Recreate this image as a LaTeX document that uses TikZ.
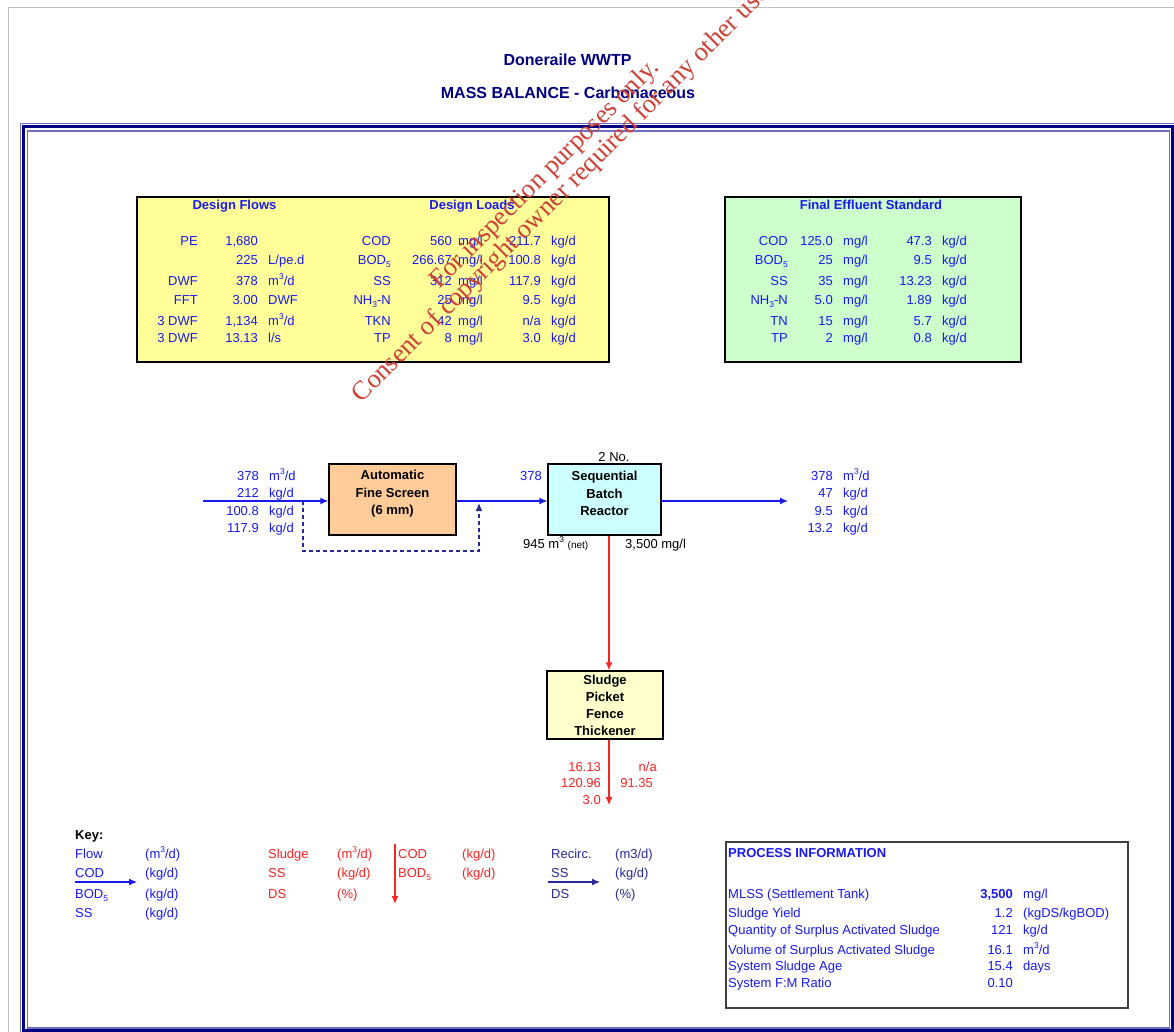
\documentclass[tikz,border=0pt]{standalone}
\usepackage{fontspec}
\setmainfont{Liberation Sans}
\newfontfamily\wmfont{Liberation Serif}
\usetikzlibrary{arrows.meta,calc}

\definecolor{flowblue}{RGB}{25,25,240}
\definecolor{navy}{RGB}{0,0,128}
\definecolor{recircblue}{RGB}{40,40,150}
\definecolor{sludgered}{RGB}{250,35,35}
\definecolor{framelight}{RGB}{110,110,200}
\definecolor{wmred}{RGB}{205,65,55}
\definecolor{loadyellow}{RGB}{255,255,153}
\definecolor{stdgreen}{RGB}{204,255,204}
\definecolor{screenfill}{RGB}{255,204,153}
\definecolor{sbrfill}{RGB}{204,255,255}
\definecolor{thkfill}{RGB}{255,255,204}

\newcommand{\sups}[1]{\raisebox{0.42em}{\fontsize{8.5}{9}\selectfont #1}}
\newcommand{\subs}[1]{\raisebox{-0.25em}{\fontsize{8.5}{9}\selectfont #1}}
\newcommand{\cubd}{m\sups{3}/d}
\newcommand{\kgd}{kg/d}
\newcommand{\mgl}{mg/l}
\newcommand{\bodf}{BOD\subs{5}}
\newcommand{\nhn}{NH\subs{3}-N}

\tikzset{
  >={Latex[length=8pt,width=7pt]},
  txt/.style={font=\fontsize{13}{15}\selectfont, inner sep=0pt, text=flowblue},
  numr/.style={txt, anchor=base east},
  numl/.style={txt, anchor=base west},
  hdr/.style={txt, anchor=base, font=\fontsize{13}{15}\selectfont\bfseries},
  tabbox/.style={draw=black, line width=1.3pt},
  procbox/.style={draw=black, line width=1.3pt, inner sep=0pt},
  proctext/.style={align=center, inner sep=0pt, font=\fontsize{13}{17.5}\selectfont\bfseries},
  flowline/.style={->, flowblue, line width=1.3pt},
  sludgeline/.style={->, sludgered, line width=1.3pt},
  recircline/.style={->, recircblue, line width=1.2pt},
  wmark/.style={text=wmred, anchor=base, rotate=45, inner sep=0pt, font=\wmfont\fontsize{26.5}{30}\selectfont}
}

\begin{document}
\begin{tikzpicture}[x=1pt, y=-1pt]
    \useasboundingbox (0,0) rectangle (1174,1032);
    \fill[white] (0,0) rectangle (1174,1032);

    % sheet edge and frame
    \draw[black!25, line width=1pt] (8,1032) -- (8,8) -- (1174,8);
    \draw[framelight, line width=1.2pt] (20.5,123.5) rectangle (1174.5,1032.5);
    \draw[navy, line width=2.4pt] (23.5,126.7) rectangle (1172.3,1030.3);
    \draw[framelight, line width=1.2pt] (27.5,131) rectangle (1169.8,1028);

    % title
    \node[anchor=base, inner sep=0pt, text=navy, font=\fontsize{16}{19}\selectfont\bfseries] (title) at (567.5,66) {Doneraile WWTP};
    \node[anchor=base, inner sep=0pt, text=navy, font=\fontsize{16}{19}\selectfont\bfseries] (subtitle) at (568,99) {MASS BALANCE - Carbonaceous};

    % design flows and loads
    \draw[tabbox, fill=loadyellow] (137,197) rectangle (609,362);
    \node[hdr] (dfhead) at (234.5,210) {Design Flows};
    \node[hdr] (dlhead) at (472,210) {Design Loads};
    \foreach \y/\lab/\val/\unt [count=\i] in {245/PE/{1,680}/{}, 264/{}/225/{L/pe.d}, 285/DWF/378/\cubd,
        304/FFT/3.00/DWF, 325/3 DWF/{1,134}/\cubd, 342/3 DWF/13.13/{l/s}}
    {
    \node[numr] (fl\i) at (198,\y) {\lab};
    \node[numr] (fv\i) at (258,\y) {\val};
    \node[numl] (fu\i) at (268,\y) {\unt};
    }
    \foreach \y/\lab/\conc/\load [count=\i] in {245/COD/560/211.7, 264/\bodf/266.67/100.8, 285/SS/312/117.9,
        304/\nhn/25/9.5, 325/TKN/42/{n/a}, 342/TP/8/3.0}
    {
    \node[numr] (ll\i) at (391,\y) {\lab};
    \node[numr] (lc\i) at (452,\y) {\conc};
    \node[numl] (lm\i) at (458,\y) {\mgl};
    \node[numr] (lk\i) at (541,\y) {\load};
    \node[numl] (lu\i) at (551,\y) {\kgd};
    }

    % final effluent standard
    \draw[tabbox, fill=stdgreen] (725,197) rectangle (1021,362);
    \node[hdr] (fehead) at (871,210) {Final Effluent Standard};
    \foreach \y/\lab/\conc/\load [count=\i] in {245/COD/125.0/47.3, 264/\bodf/25/9.5, 285/SS/35/13.23,
        304/\nhn/5.0/1.89, 325/TN/15/5.7, 342/TP/2/0.8}
    {
    \node[numr] (el\i) at (788,\y) {\lab};
    \node[numr] (ec\i) at (833,\y) {\conc};
    \node[numl] (em\i) at (843,\y) {\mgl};
    \node[numr] (ek\i) at (932,\y) {\load};
    \node[numl] (eu\i) at (942,\y) {\kgd};
    }

    % process units
    \node[procbox, fill=screenfill, minimum width=127pt, minimum height=71pt] (scr) at (392.5,499.5) {};
    \node[proctext, yshift=5.5pt] (scrtxt) at (scr) {Automatic\\Fine Screen\\(6 mm)};
    \node[procbox, fill=sbrfill, minimum width=113pt, minimum height=71pt] (sbr) at (604.5,499.5) {};
    \node[proctext, yshift=6pt] (sbrtxt) at (sbr) {Sequential\\Batch\\Reactor};
    \node[procbox, fill=thkfill, minimum width=116pt, minimum height=68pt] (thk) at (605,705) {};
    \node[proctext, font=\fontsize{13}{17}\selectfont\bfseries] (thktxt) at (thk) {Sludge\\Picket\\Fence\\Thickener};

    \node[txt, text=black, anchor=base] (sbrno) at (614,461) {2 No.};
    \node[numr] (sbrq) at (542,480) {378};
    \node[txt, text=black, anchor=base west] (sbrvol) at (523,548) {945 m\sups{3} {\fontsize{10}{12}\selectfont(net)}};
    \node[txt, text=black, anchor=base west] (sbrml) at (625,548) {3,500 \mgl};

    % flows
    \coordinate (in) at (203,501);
    \coordinate (out) at (788,501);
    \coordinate (bpa) at (303,501);
    \coordinate (bpb) at (479,503);
    \coordinate (sd) at (609,805);
    \draw[flowline] (in) -- (in -| scr.west);
    \draw[flowline] (scr.east |- in) -- (sbr.west |- in);
    \draw[flowline] (sbr.east |- in) -- (out);
    \draw[recircline, dashed, dash pattern=on 4pt off 3pt] (bpa) -- ++(0,50) -| (bpb);
    \draw[sludgeline] (sbr.south -| sd) -- (thk.north -| sd);
    \draw[sludgeline] (thk.south -| sd) -- (sd);

    \foreach \y/\val/\unt [count=\i] in {480/378/\cubd, 497.5/212/\kgd, 515/100.8/\kgd, 532/117.9/\kgd}
    {
    \node[numr] (iv\i) at (259,\y) {\val};
    \node[numl] (iu\i) at (269,\y) {\unt};
    }
    \foreach \y/\val/\unt [count=\i] in {480/378/\cubd, 497.5/47/\kgd, 515/9.5/\kgd, 532/13.2/\kgd}
    {
    \node[numr] (ov\i) at (833,\y) {\val};
    \node[numl] (ou\i) at (843,\y) {\unt};
    }
    \foreach \y/\val [count=\i] in {771/16.13, 787.5/120.96, 804/3.0}
      \node[numr, text=sludgered] (sv\i) at (601,\y) {\val};
    \node[numr, text=sludgered] (sna) at (657,771) {n/a};
    \node[numr, text=sludgered] (sds) at (653,787.5) {91.35};

    % key
    \node[txt, text=black, anchor=base west, font=\fontsize{13}{15}\selectfont\bfseries] (key) at (75,839) {Key:};
    \foreach \y/\a/\b [count=\i] in {858/Flow/(\cubd), 877.5/COD/(\kgd), 898.5/\bodf/(\kgd), 917.5/SS/(\kgd)}
    {
    \node[numl] (ka\i) at (75,\y) {\a};
    \node[numl] (kb\i) at (145,\y) {\b};
    }
    \foreach \y/\a/\b [count=\i] in {858/Sludge/(\cubd), 877.5/SS/(\kgd), 898.5/DS/(\%)}
    {
    \node[numl, text=sludgered] (kc\i) at (268,\y) {\a};
    \node[numl, text=sludgered] (kd\i) at (337,\y) {\b};
    }
    \foreach \y/\a/\b [count=\i] in {858/COD/(\kgd), 877.5/\bodf/(\kgd)}
    {
    \node[numl, text=sludgered] (ke\i) at (398,\y) {\a};
    \node[numl, text=sludgered] (kf\i) at (462,\y) {\b};
    }
    \foreach \y/\a/\b [count=\i] in {858/Recirc./{(m3/d)}, 877.5/SS/(\kgd), 898.5/DS/(\%)}
    {
    \node[numl, text=recircblue] (kg\i) at (551,\y) {\a};
    \node[numl, text=recircblue] (kh\i) at (615,\y) {\b};
    }
    \coordinate (kfa) at (75,882);
    \coordinate (kfb) at (137,882);
    \coordinate (ksa) at (395,844);
    \coordinate (ksb) at (395,904);
    \coordinate (kra) at (548,882);
    \coordinate (krb) at (600,882);
    \draw[flowline, line width=1.2pt] (kfa) -- (kfb);
    \draw[sludgeline, line width=1.2pt] (ksa) -- (ksb);
    \draw[recircline] (kra) -- (krb);

    % process information
    \draw[black!75, line width=1.3pt, fill=white] (726,842) rectangle (1128,1008);
    \node[numl, font=\fontsize{13}{15}\selectfont\bfseries] (pihead) at (728,857.5) {PROCESS INFORMATION};
    \foreach \y/\lab/\val/\unt [count=\i] in {898/MLSS (Settlement Tank)/{\textbf{3,500}}/\mgl,
        917/Sludge Yield/1.2/{(kgDS/kgBOD)}, 934/Quantity of Surplus Activated Sludge/121/\kgd,
        954/Volume of Surplus Activated Sludge/16.1/\cubd, 970/System Sludge Age/15.4/days,
        987/System F:M Ratio/0.10/{}}
    {
    \node[numl] (pl\i) at (728,\y) {\lab};
    \node[numr] (pv\i) at (1013,\y) {\val};
    \node[numl] (pu\i) at (1023,\y) {\unt};
    }

    % watermark
    \node[wmark] (wma) at (550,179) {For inspection purposes only.};
    \node[wmark] (wmb) at (568,197) {Consent of copyright owner required for any other use.};
\end{tikzpicture}
\end{document}
